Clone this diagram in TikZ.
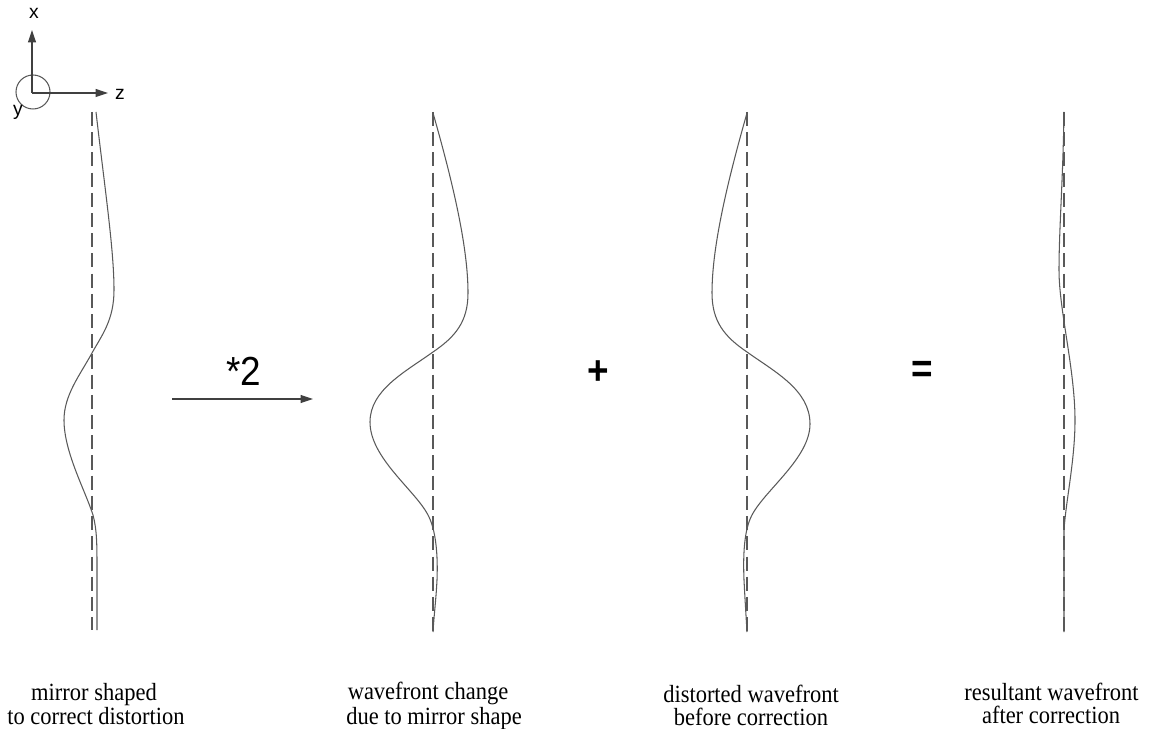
\documentclass[tikz,border=0pt]{standalone}
\usepackage{fontspec}
\setmainfont{Liberation Serif}
\setsansfont{Liberation Sans}
\usetikzlibrary{arrows.meta}
\newcommand\tallbox[1]{\scalebox{1}[1.1]{#1}}
\begin{document}
\begin{tikzpicture}[x=0.02cm,y=-0.02cm,
  wave/.style={draw=black!65, line width=0.6pt},
  refline/.style={draw=black!65, line width=0.6pt, dash pattern=on 8pt off 3.5pt},
  arr/.style={-{Triangle[length=7pt,width=4.5pt]}, draw=black!75, line width=0.6pt},
  lbl/.style={font=\fontsize{12.8}{14}\selectfont, anchor=base, inner sep=0pt},
  op/.style={font=\sffamily\fontsize{21}{24}\selectfont, inner sep=0pt},
  axlbl/.style={font=\sffamily\fontsize{11}{12}\selectfont, inner sep=0pt}]

\useasboundingbox (0,0) rectangle (1156,729);

% coordinate axes
\coordinate (o) at (32,93);
\coordinate (xtip) at (32,30);
\coordinate (ztip) at (108,93);
\draw[wave] (33,92) circle[radius=0.34cm];
\draw[arr] (o) -- (xtip);
\draw[arr] (o) -- (ztip);
\node[axlbl] (xl) at (34,13) {x};
\node[axlbl] (zl) at (120,94) {z};
\node[axlbl] (yl) at (18,112) {y};

% reference (dashed) lines
\draw[refline] (92,112) -- (92,630);
\draw[refline] (433,112) -- (433,632);
\draw[refline] (747,112) -- (747,632);
\draw[refline] (1064,112) -- (1064,632);

% mirror shape
\draw[wave] (96,112) .. controls (105,190) and (114,250) .. (114,290)
  .. controls (114,320) and (102,335) .. (92,353)
  .. controls (80,375) and (64,395) .. (64,420)
  .. controls (64,452) and (85,490) .. (93,515)
  .. controls (97,530) and (97,545) .. (97,570) -- (97,630);
% wavefront change
\draw[wave] (433,113) .. controls (455,190) and (468,250) .. (468,293)
  .. controls (468,322) and (455,337) .. (433,352)
  .. controls (405,372) and (370,390) .. (370,422)
  .. controls (370,458) and (415,490) .. (428,515)
  .. controls (436,530) and (438,555) .. (437,580)
  .. controls (436,600) and (434,615) .. (433,632);
% distorted wavefront
\draw[wave] (747,113) .. controls (725,190) and (712,250) .. (712,293)
  .. controls (712,322) and (725,337) .. (747,352)
  .. controls (775,372) and (810,390) .. (810,424)
  .. controls (810,458) and (765,490) .. (752,515)
  .. controls (744,530) and (743,555) .. (744,580)
  .. controls (745,600) and (746,615) .. (747,632);
% resultant wavefront
\draw[wave] (1064,112) .. controls (1063,180) and (1059,230) .. (1059,270)
  .. controls (1059,310) and (1075,370) .. (1075,420)
  .. controls (1075,460) and (1066,500) .. (1064,530) -- (1064,632);

% operators
\coordinate (a1) at (172,399);
\coordinate (a2) at (313,399);
\draw[arr] (a1) -- (a2);
\node[op] (times) at (244,371) {\tallbox{*2}};
\node[op] (plus) at (598.5,372.5) {\tallbox{\bfseries +}};
\node[op] (eq) at (922.5,371.5) {\tallbox{\bfseries =}};

% labels
\node[lbl] (l1a) at (94,700) {\tallbox{mirror shaped}};
\node[lbl] (l1b) at (96,724) {\tallbox{to correct distortion}};
\node[lbl] (l2a) at (428,699) {\tallbox{wavefront change}};
\node[lbl] (l2b) at (434,724) {\tallbox{due to mirror shape}};
\node[lbl] (l3a) at (751,702) {\tallbox{distorted wavefront}};
\node[lbl] (l3b) at (751,725) {\tallbox{before correction}};
\node[lbl] (l4a) at (1051.5,700) {\tallbox{resultant wavefront}};
\node[lbl] (l4b) at (1051,723) {\tallbox{after correction}};
\end{tikzpicture}
\end{document}
